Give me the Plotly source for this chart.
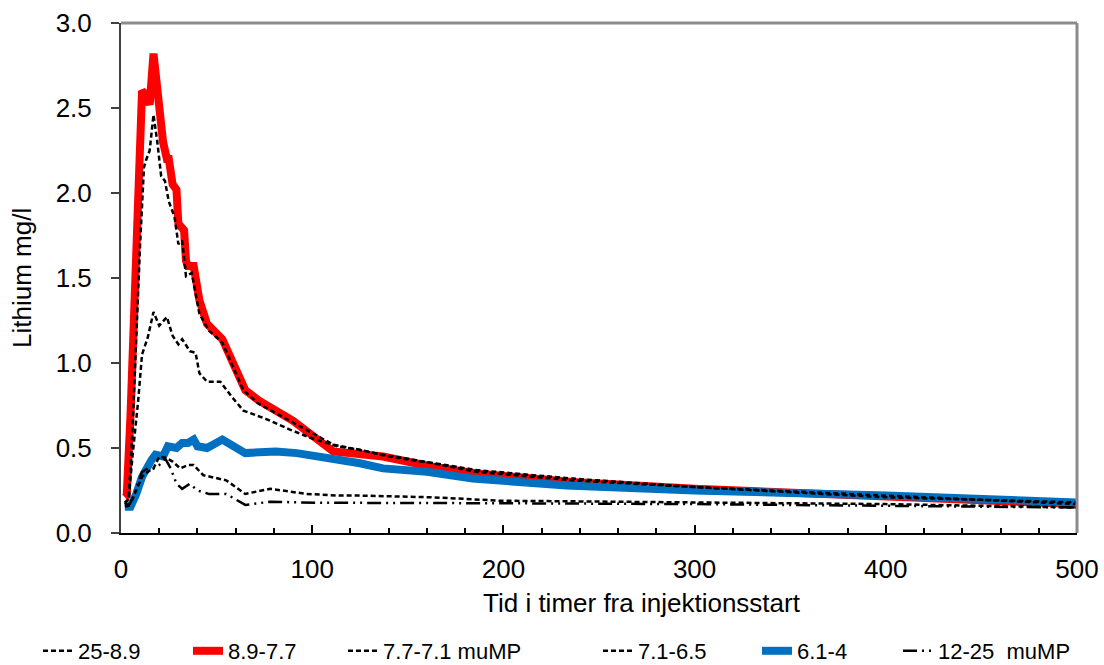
import plotly.graph_objects as go

# ---- data ----
x_25_89 = [2, 4, 6, 8, 10, 12, 13, 15, 17, 19, 21, 23, 25, 28, 30, 32, 34, 37, 41, 46, 53, 64, 72, 90, 111, 137, 163, 186, 236, 300, 400, 500]
y_25_89 = [0.18, 0.20, 0.60, 1.20, 1.70, 2.15, 2.19, 2.25, 2.46, 2.30, 2.10, 2.07, 1.95, 1.86, 1.70, 1.72, 1.51, 1.53, 1.29, 1.19, 1.12, 0.84, 0.76, 0.65, 0.52, 0.46, 0.41, 0.37, 0.32, 0.27, 0.21, 0.18]

x_89_77 = [2, 3, 5, 7, 9, 10, 11, 13, 15, 17, 19, 22, 24, 25, 27, 29, 30, 33, 34, 35, 38, 41, 45, 53, 65, 72, 90, 111, 137, 163, 186, 236, 300, 400, 500]
y_89_77 = [0.21, 0.22, 0.70, 1.30, 1.90, 2.20, 2.60, 2.58, 2.52, 2.82, 2.60, 2.30, 2.20, 2.20, 2.05, 2.02, 1.82, 1.78, 1.60, 1.57, 1.57, 1.37, 1.23, 1.14, 0.84, 0.78, 0.66, 0.48, 0.45, 0.39, 0.35, 0.30, 0.26, 0.22, 0.17]

x_77_71 = [2, 4, 6, 9, 11, 14, 17, 20, 24, 27, 30, 32, 36, 39, 41, 45, 52, 58, 64, 76, 88, 99, 113, 125, 140, 163, 186, 236, 300, 400, 500]
y_77_71 = [0.17, 0.20, 0.45, 0.78, 1.05, 1.15, 1.30, 1.22, 1.27, 1.16, 1.11, 1.14, 1.07, 1.06, 0.94, 0.89, 0.89, 0.80, 0.72, 0.67, 0.61, 0.56, 0.51, 0.49, 0.45, 0.41, 0.36, 0.31, 0.27, 0.22, 0.17]

x_71_65 = [2, 4, 6, 9, 11, 14, 17, 20, 24, 27, 31, 35, 38, 43, 51, 55, 65, 78, 97, 114, 125, 163, 198, 300, 400, 500]
y_71_65 = [0.165, 0.17, 0.20, 0.28, 0.33, 0.36, 0.38, 0.45, 0.44, 0.42, 0.38, 0.40, 0.40, 0.34, 0.32, 0.31, 0.23, 0.26, 0.23, 0.22, 0.22, 0.21, 0.19, 0.18, 0.17, 0.15]

x_61_4 = [2, 5, 8, 11, 16, 18, 22, 24.5, 29, 32, 35, 38, 40, 45, 53, 65, 81, 92, 125, 137, 160, 184, 233, 300, 400, 500]
y_61_4 = [0.155, 0.155, 0.23, 0.33, 0.43, 0.46, 0.45, 0.51, 0.50, 0.53, 0.53, 0.55, 0.51, 0.50, 0.55, 0.47, 0.48, 0.47, 0.41, 0.38, 0.36, 0.32, 0.28, 0.25, 0.22, 0.18]

x_12_25 = [2, 4, 6, 9, 11, 14, 17, 20, 23, 26, 29, 31, 32, 36, 40, 46, 55, 65, 78, 102, 125, 200, 300, 400, 500]
y_12_25 = [0.155, 0.16, 0.20, 0.30, 0.36, 0.38, 0.38, 0.40, 0.44, 0.38, 0.29, 0.27, 0.26, 0.29, 0.25, 0.23, 0.23, 0.165, 0.184, 0.178, 0.178, 0.175, 0.17, 0.16, 0.15]

names = ["25-8.9", "8.9-7.7", "7.7-7.1 muMP", "7.1-6.5", "6.1-4", "12-25\u00a0 muMP"]

x_ticks = [0, 100, 200, 300, 400, 500]
y_ticks = [0.0, 0.5, 1.0, 1.5, 2.0, 2.5, 3.0]

FONT = "Liberation Sans, Arial, sans-serif"
SMALL_DASH = "5px,3px"
DASH_DOT = "14px,5px,2px,5px,2px,5px"
W, H = 1104, 665

# legend text start positions (px) in the reference, one legend per series
legend_text_px = [78, 228, 383, 638, 797, 938]

fig = go.Figure()
# thick lines underneath
fig.add_trace(go.Scatter(x=x_89_77, y=y_89_77, mode="lines", name=names[1], legend="legend2",
                         line=dict(color="#FF0000", width=8)))
fig.add_trace(go.Scatter(x=x_61_4, y=y_61_4, mode="lines", name=names[4], legend="legend5",
                         line=dict(color="#0070C0", width=8)))
# thin black lines on top
fig.add_trace(go.Scatter(x=x_25_89, y=y_25_89, mode="lines", name=names[0], legend="legend",
                         line=dict(color="black", width=2.5, dash=SMALL_DASH)))
fig.add_trace(go.Scatter(x=x_77_71, y=y_77_71, mode="lines", name=names[2], legend="legend3",
                         line=dict(color="black", width=2.5, dash=SMALL_DASH)))
fig.add_trace(go.Scatter(x=x_71_65, y=y_71_65, mode="lines", name=names[3], legend="legend4",
                         line=dict(color="black", width=2.5, dash=SMALL_DASH)))
fig.add_trace(go.Scatter(x=x_12_25, y=y_12_25, mode="lines", name=names[5], legend="legend6",
                         line=dict(color="black", width=2.5, dash=DASH_DOT)))

legend_common = dict(orientation="h", xref="container", yref="container",
                     yanchor="middle", y=(H - 651) / H, xanchor="left",
                     font=dict(size=22, family=FONT, color="black"),
                     bgcolor="rgba(0,0,0,0)", borderwidth=0, itemwidth=30)
legend_keys = ["legend", "legend2", "legend3", "legend4", "legend5", "legend6"]
legend_layout = {}
for key, tx in zip(legend_keys, legend_text_px):
    legend_layout[key] = dict(legend_common, x=(tx - 40) / W)

fig.update_layout(
    width=W, height=H,
    margin=dict(l=121, r=27, t=23, b=132, autoexpand=False),
    paper_bgcolor="white", plot_bgcolor="white",
    font=dict(family=FONT, size=26, color="black"),
    showlegend=True,
    xaxis=dict(range=[0, 500], tickvals=x_ticks, ticktext=[str(v) for v in x_ticks],
               ticks="inside", ticklen=8, tickwidth=2, tickcolor="black",
               minor=dict(dtick=20, ticks="inside", ticklen=5, tickwidth=1.5, tickcolor="black"),
               showline=True, linecolor="black", linewidth=2, showgrid=False, zeroline=False,
               tickfont=dict(size=26), ticklabelstandoff=12, automargin=False),
    yaxis=dict(range=[0, 3.0], tickvals=y_ticks, ticktext=[f"{v:.1f}" for v in y_ticks],
               ticks="outside", ticklen=8, tickwidth=2, tickcolor="#404040",
               showline=True, linecolor="#404040", linewidth=2, showgrid=False, zeroline=False,
               tickfont=dict(size=26), ticklabelstandoff=14, automargin=False),
    annotations=[
        dict(text="Tid i timer fra injektionsstart", xref="paper", yref="paper",
             x=(642 - 121) / 956, y=(533 - 603) / 510, xanchor="center", yanchor="middle",
             showarrow=False, font=dict(size=26)),
        dict(text="Lithium mg/l", xref="paper", yref="paper", textangle=-90,
             x=(22 - 121) / 956, y=0.5, xanchor="center", yanchor="middle", showarrow=False,
             font=dict(size=26)),
    ],
    shapes=[
        dict(type="line", xref="paper", yref="paper", x0=0, x1=1, y0=1, y1=1,
             line=dict(color="#8C8C8C", width=3)),
        dict(type="line", xref="paper", yref="paper", x0=1, x1=1, y0=0, y1=1,
             line=dict(color="#8C8C8C", width=3)),
    ],
    **legend_layout,
)

fig.write_html("out.html")
